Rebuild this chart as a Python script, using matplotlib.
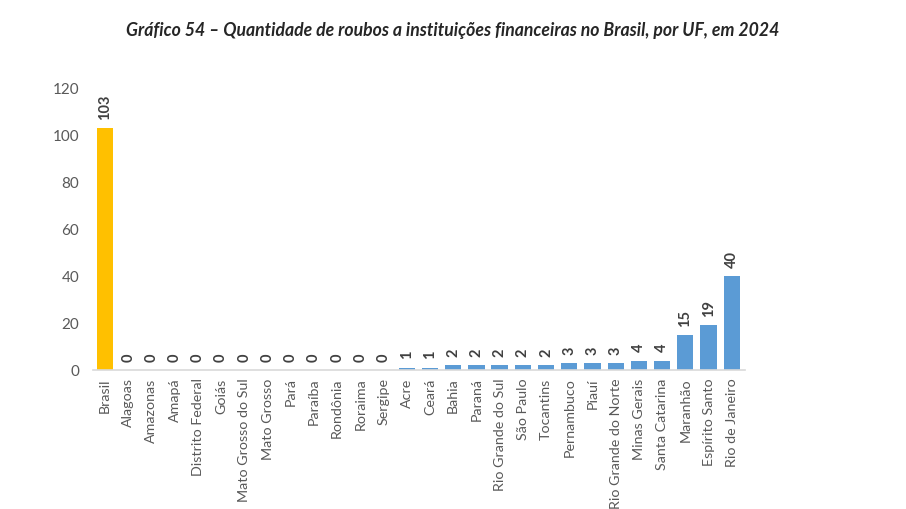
import matplotlib
matplotlib.use("Agg")
import matplotlib.pyplot as plt

categories = ["Brasil", "Alagoas", "Amazonas", "Amapá", "Distrito Federal", "Goiás",
              "Mato Grosso do Sul", "Mato Grosso", "Pará", "Paraíba", "Rondônia", "Roraima",
              "Sergipe", "Acre", "Ceará", "Bahia", "Paraná", "Rio Grande do Sul", "São Paulo",
              "Tocantins", "Pernambuco", "Piauí", "Rio Grande do Norte", "Minas Gerais",
              "Santa Catarina", "Maranhão", "Espírito Santo", "Rio de Janeiro"]
values = [103, 0, 0, 0, 0, 0, 0, 0, 0, 0, 0, 0, 0, 1, 1, 2, 2, 2, 2, 2, 3, 3, 3, 4, 4, 15, 19, 40]
yticks = [0, 20, 40, 60, 80, 100, 120]
title = "Gráfico 54 – Quantidade de roubos a instituições financeiras no Brasil, por UF, em 2024"

plt.rcParams['font.family'] = ['Lato', 'DejaVu Sans']

fig = plt.figure(figsize=(9.06, 5.09), dpi=100)
ax = fig.add_axes([0.1026, 0.273, 0.7194, 0.554])

colors = ["#FFC000" if c == "Brasil" else "#5B9BD5" for c in categories]
x = list(range(len(categories)))
ax.bar(x, values, width=0.7, color=colors)

for xi, v in zip(x, values):
    ax.text(xi, v + 3.5, str(v), rotation=90, ha="center", va="bottom",
            fontsize=10.5, fontweight="bold", color="#404040")

ax.set_xlim(-0.52, len(categories) - 0.44)
ax.set_ylim(0, 120)
ax.set_yticks(yticks)
ax.set_xticks(x)
ax.set_xticklabels(categories, rotation=90, fontsize=10.3, color="#595959")
ax.tick_params(axis="y", labelsize=11, labelcolor="#595959", length=0, pad=10)
ax.tick_params(axis="x", length=0, pad=6)
for s in ["top", "right", "left"]:
    ax.spines[s].set_visible(False)
ax.spines["bottom"].set_color("#D9D9D9")
ax.spines["bottom"].set_linewidth(1.2)

fig.text(0.50, 0.94, title, ha="center", va="center", fontsize=12.7,
         fontstyle="italic", fontweight="bold", color="#262626")

fig.savefig("out.png", dpi=100)
